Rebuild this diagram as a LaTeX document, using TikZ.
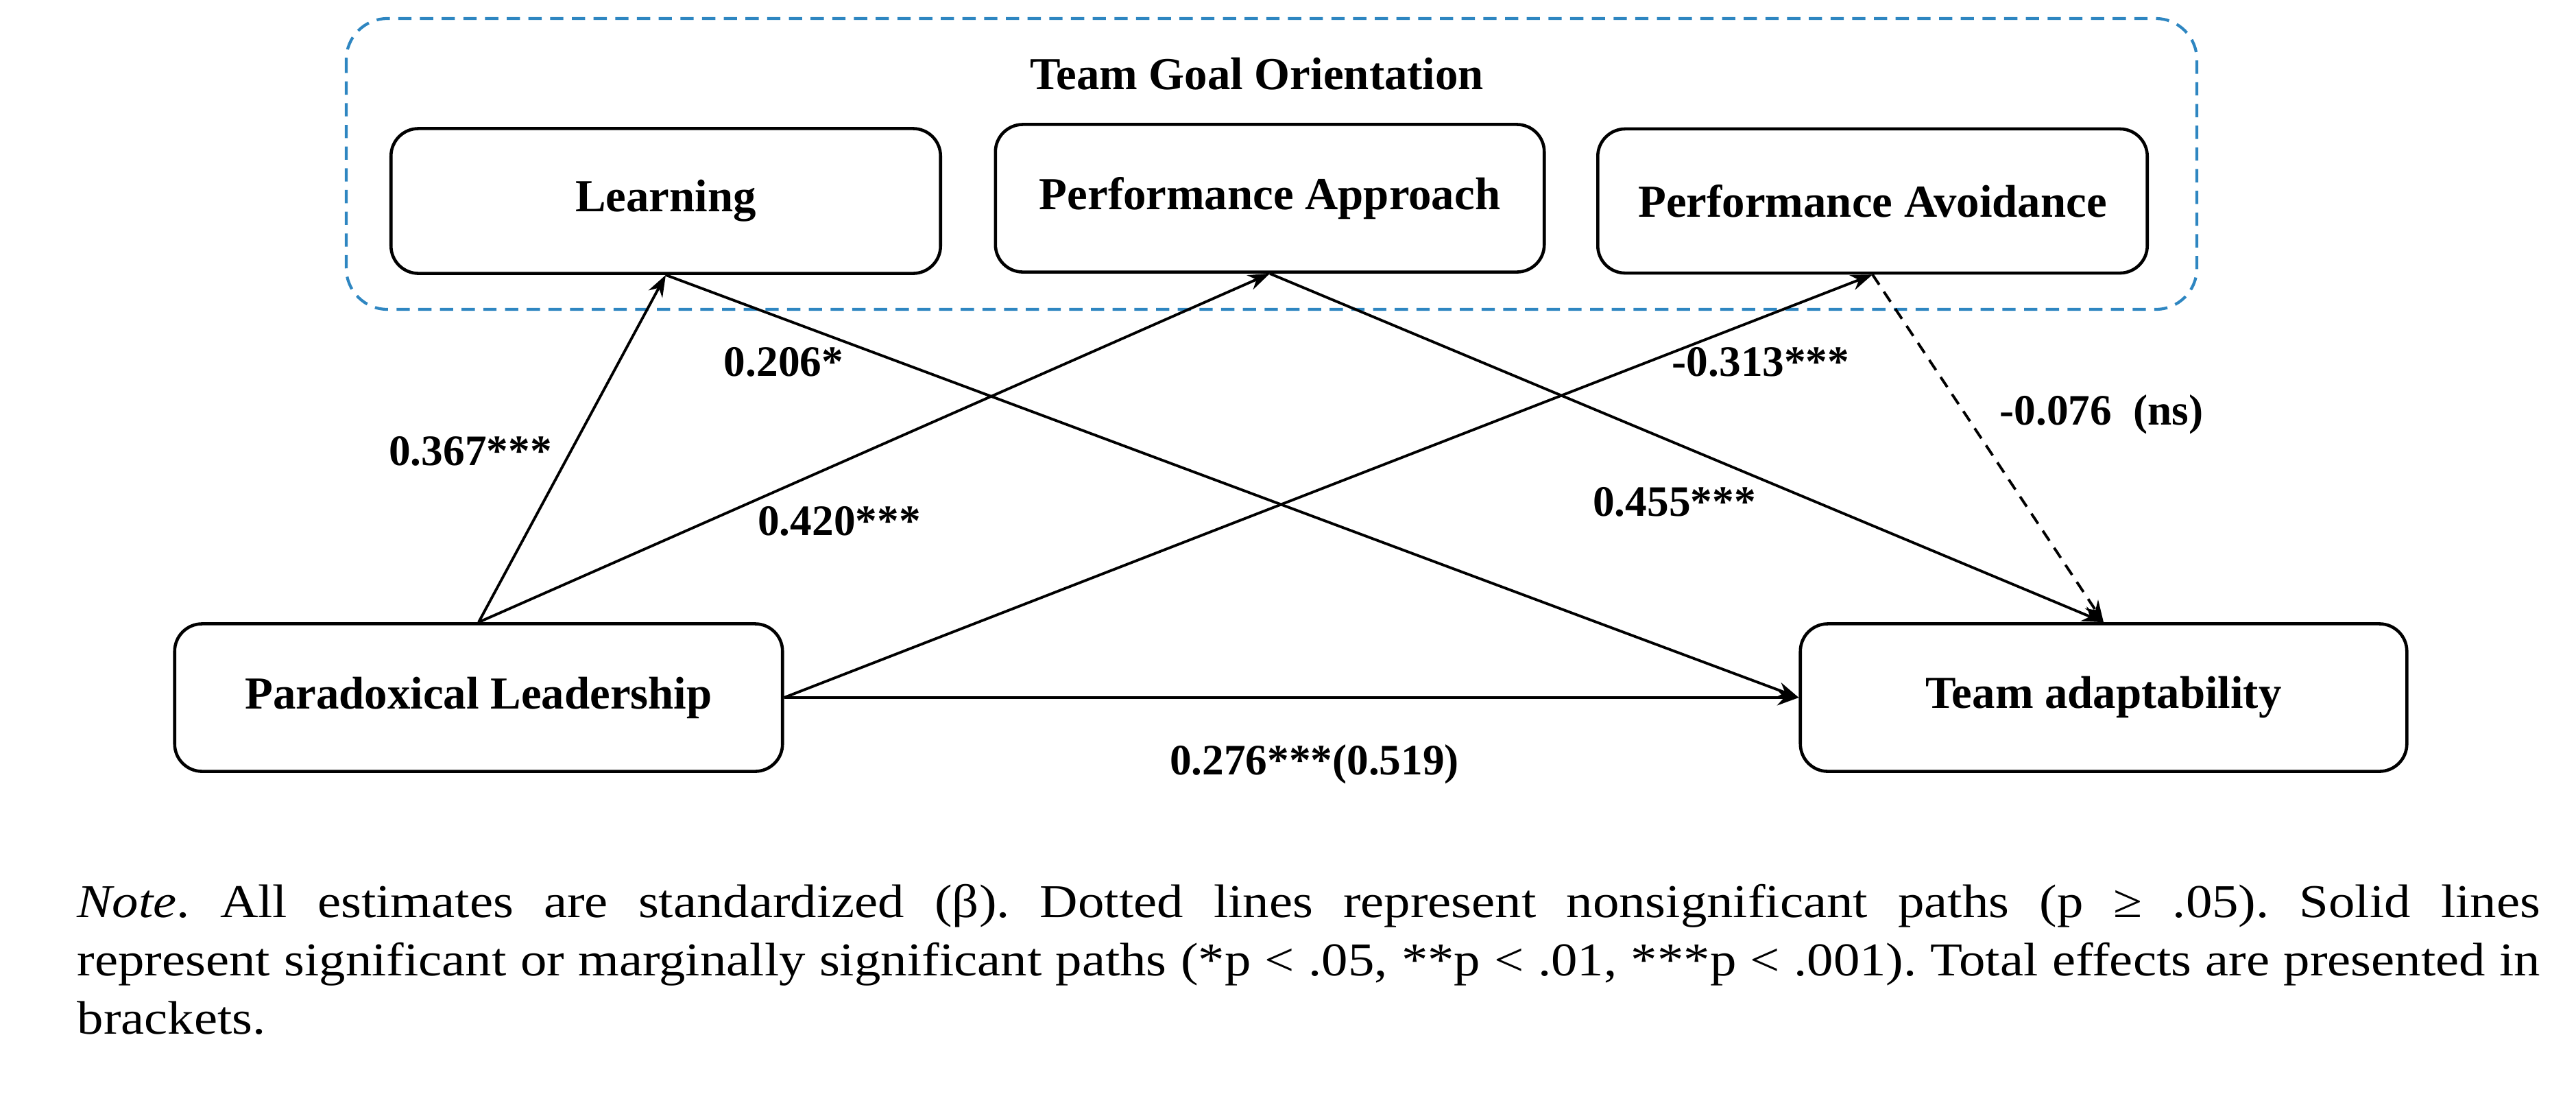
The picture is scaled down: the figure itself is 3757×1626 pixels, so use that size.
\documentclass[tikz,border=0pt]{standalone}
\usepackage{fontspec}
\setmainfont{Liberation Serif}
\newfontfamily\notefont{Liberation Serif}[FakeStretch=1.12]
\usetikzlibrary{arrows.meta}
\definecolor{grpblue}{RGB}{46,134,193}
\begin{document}
\frenchspacing
\begin{tikzpicture}[x=0.01cm,y=-0.01cm,
  box/.style={draw,line width=1.3pt,rounded corners=0.4cm,inner sep=0pt,font=\fontsize{19}{22}\selectfont\bfseries},
  lab/.style={inner sep=0pt,font=\fontsize{18}{21}\selectfont\bfseries},
  arr/.style={line width=1.1pt,-{Stealth[length=9pt,width=6.5pt]}}]
\useasboundingbox (0,0) rectangle (3757,1626);
\draw[grpblue,line width=1.2pt,dash pattern=on 5.5pt off 3.5pt,rounded corners=0.6cm] (505,27) rectangle (3204,451);
\node[lab,font=\fontsize{19}{22}\selectfont\bfseries] (title) at (1833,108) {Team Goal Orientation};
\node[box,minimum width=8.01cm,minimum height=2.11cm] (L) at (971,293) {Learning};
\node[box,minimum width=8.0cm,minimum height=2.15cm] (PA) at (1852,289) {Performance Approach};
\node[box,minimum width=8.01cm,minimum height=2.1cm] (PV) at (2731,293) {Performance Avoidance};
\node[box,minimum width=8.86cm,minimum height=2.15cm] (PL) at (698,1017) {Paradoxical Leadership};
\node[box,minimum width=8.84cm,minimum height=2.15cm] (TA) at (3068,1017) {Team adaptability};
\draw[arr] (PL.north) -- (L.south);
\draw[arr] (PL.north) -- (PA.south);
\draw[arr] (PL.east) -- (PV.south);
\draw[arr] (PL.east) -- (TA.west);
\draw[arr] (L.south) -- (TA.west);
\draw[arr] (PA.south) -- (TA.north);
\draw[arr,dash pattern=on 5pt off 3.5pt] (PV.south) -- (TA.north);
\node[lab] (l1) at (686,658) {0.367***};
\node[lab] (l2) at (1143,528) {0.206*};
\node[lab] (l3) at (1224,760) {0.420***};
\node[lab] (l4) at (2568,528) {-0.313***};
\node[lab] (l5) at (3065,604) {-0.076\hspace{0.5em}(ns)};
\node[lab] (l6) at (2442,732) {0.455***};
\node[lab] (l7) at (1917,1114) {0.276***(0.519)};
\node[anchor=north west,inner sep=0pt,text width=35.9cm,align=justify,font=\notefont\fontsize{19.5}{24.2}\selectfont] (note) at (112,1288)
{\textit{Note}. All estimates are standardized (β). Dotted lines represent nonsignificant paths (p ≥ .05). Solid lines\linebreak represent significant or marginally significant paths (*p < .05, **p < .01, ***p < .001). Total effects are presented in\linebreak brackets.};
\end{tikzpicture}
\end{document}
